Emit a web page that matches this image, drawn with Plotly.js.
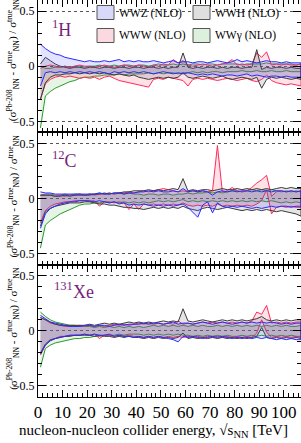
<!DOCTYPE html>
<html><head><meta charset="utf-8">
<script src="https://cdn.plot.ly/plotly-3.0.1.min.js"></script>
<style>html,body{margin:0;padding:0;background:#fff}#plot{width:301px;height:443px}</style>
</head><body><div id="plot"></div>
<script>
// collider energy sqrt(s_NN) [TeV]
const energy = [1,3,5,7,9,11,13,15,17,19, 21,23,25,27,29,31,33,35,37,39, 41,43,45,47,49,51,53,55,57,59, 61,63,65,67,69,71,73,75,77,79, 81,83,85,87,89,91,93,95,97,99, 101,103,105,107];

// ---- 1H panel ----
const H_WWZ_up = [0.20,0.16,0.13,0.11,0.10,0.08,0.07,0.06,0.05,0.04, 0.05,0.04,0.04,0.05,0.04,0.05,0.06,0.04,0.05,0.04, 0.05,0.04,0.04,0.05,0.04,0.03,0.04,0.05,0.03,0.04, 0.04,0.03,0.04,0.04,0.03,0.04,0.05,0.04,0.03,0.04, 0.06,0.04,0.05,0.04,0.03,0.04,0.05,0.04,0.04,0.03, 0.04,0.03,0.03,0.03];
const H_WWZ_lo = [-0.18,-0.06,-0.05,-0.06,-0.05,-0.06,-0.05,-0.06,-0.05,-0.06, -0.05,-0.06,-0.05,-0.06,-0.07,-0.05,-0.06,-0.05,-0.06,-0.05, -0.06,-0.05,-0.06,-0.07,-0.06,-0.05,-0.06,-0.07,-0.06,-0.07, -0.06,-0.07,-0.08,-0.07,-0.08,-0.07,-0.08,-0.09,-0.08,-0.08, -0.09,-0.08,-0.07,-0.09,-0.08,-0.09,-0.10,-0.09,-0.09,-0.10, -0.09,-0.10,-0.10,-0.10];
const H_WWH_up = [0.02,0.08,0.05,0.02,0.00,-0.01,-0.02,-0.01,-0.01,-0.02, -0.01,-0.01,-0.02,-0.01,-0.01,-0.02,-0.01,-0.01,-0.02,-0.01, -0.01,-0.02,-0.01,-0.01,-0.02,-0.01,-0.02,-0.01,-0.01,0.12, -0.01,-0.02,-0.01,-0.02,-0.01,-0.01,-0.02,-0.01,-0.02,-0.01, -0.01,-0.02,-0.01,-0.01,0.15,-0.03,-0.01,-0.02,-0.01,-0.01, -0.02,-0.01,-0.02,-0.02];
const H_WWH_lo = [-0.30,-0.15,-0.10,-0.08,-0.08,-0.07,-0.07,-0.06,-0.07,-0.06, -0.07,-0.06,-0.07,-0.06,-0.07,-0.08,-0.07,-0.08,-0.09,-0.08, -0.10,-0.11,-0.12,-0.11,-0.10,-0.11,-0.10,-0.11,-0.10,-0.06, -0.10,-0.11,-0.10,-0.09,-0.10,-0.11,-0.10,-0.09,-0.11,-0.12, -0.11,-0.10,-0.11,-0.12,-0.10,-0.20,-0.12,-0.10,-0.11,-0.10, -0.11,-0.12,-0.11,-0.12];
const H_WWW_up = [-0.02,0.00,0.01,0.00,-0.01,0.00,-0.01,0.00,0.01,0.00, 0.00,-0.01,0.00,0.01,0.00,-0.01,0.00,0.01,0.00,0.00, 0.01,0.00,-0.01,0.01,0.00,0.02,0.01,0.06,0.03,0.05, 0.01,0.00,0.01,0.02,0.01,0.00,0.01,0.02,0.03,0.06, 0.01,0.02,0.01,0.02,0.12,0.08,0.13,0.01,0.02,0.01, 0.02,0.01,0.01,0.02];
const H_WWW_lo = [-0.30,-0.16,-0.12,-0.10,-0.09,-0.10,-0.09,-0.10,-0.11,-0.10, -0.11,-0.10,-0.12,-0.10,-0.09,-0.11,-0.13,-0.14,-0.15,-0.16, -0.17,-0.18,-0.19,-0.12,-0.11,-0.12,-0.10,-0.11,-0.12,-0.13, -0.18,-0.12,-0.11,-0.12,-0.11,-0.12,-0.13,-0.12,-0.11,-0.12, -0.13,-0.12,-0.11,-0.13,-0.14,-0.12,-0.08,-0.13,-0.15,-0.16, -0.17,-0.16,-0.17,-0.18];
const H_WWA_up = [0.00,-0.02,-0.02,-0.01,-0.01,0.00,-0.01,0.00,0.00,-0.01, 0.00,0.00,0.01,0.00,0.00,0.01,0.00,0.01,0.01,0.00, 0.01,0.01,0.00,0.01,0.02,0.01,0.01,0.02,0.01,0.02, 0.01,0.02,0.02,0.01,0.02,0.02,0.01,0.02,0.02,0.02, 0.02,0.01,0.02,0.02,0.02,0.02,0.03,0.02,0.02,0.02, 0.02,0.02,0.01,0.02];
const H_WWA_lo = [-0.56,-0.27,-0.23,-0.20,-0.18,-0.16,-0.14,-0.13,-0.11,-0.10, -0.10,-0.09,-0.09,-0.08,-0.08,-0.08,-0.07,-0.08,-0.07,-0.07, -0.07,-0.07,-0.06,-0.07,-0.06,-0.07,-0.06,-0.06,-0.07,-0.06, -0.06,-0.05,-0.06,-0.05,-0.06,-0.05,-0.05,-0.06,-0.05,-0.05, -0.05,-0.04,-0.05,-0.05,-0.04,-0.05,-0.05,-0.04,-0.05,-0.05, -0.04,-0.05,-0.05,-0.05];

// ---- 12C panel ----
const C_WWZ_up = [0.06,0.05,0.05,0.04,0.04,0.04,0.04,0.04,0.04,0.04, 0.04,0.04,0.05,0.04,0.04,0.05,0.05,0.04,0.05,0.05, 0.06,0.06,0.07,0.06,0.07,0.06,0.06,0.07,0.06,0.09, 0.06,0.07,0.06,0.07,0.06,0.03,0.06,0.07,0.06,0.07, 0.06,0.07,0.07,0.06,0.07,0.06,0.07,0.06,0.07,0.07, 0.06,0.07,0.06,0.07];
const C_WWZ_lo = [-0.27,-0.14,-0.09,-0.07,-0.05,-0.04,-0.03,-0.03,-0.02,-0.02, -0.02,-0.03,-0.02,-0.03,-0.04,-0.03,-0.05,-0.04,-0.06,-0.05, -0.06,-0.05,-0.06,-0.07,-0.06,-0.07,-0.06,-0.07,-0.06,-0.05, -0.08,-0.12,-0.17,-0.06,-0.03,-0.13,-0.04,-0.07,-0.08,-0.07, -0.08,-0.07,-0.08,-0.09,-0.08,-0.09,-0.08,-0.07,-0.08,-0.07, -0.07,-0.08,-0.07,-0.07];
const C_WWH_up = [0.03,0.03,0.03,0.02,0.02,0.03,0.02,0.03,0.03,0.03, 0.03,0.04,0.04,0.05,0.04,0.05,0.05,0.06,0.06,0.07, 0.07,0.07,0.08,0.07,0.08,0.07,0.08,0.09,0.08,0.18, 0.07,0.08,0.07,0.08,0.08,0.07,0.08,0.09,0.08,0.08, 0.09,0.08,0.09,0.08,0.09,0.08,0.09,0.08,0.09,0.10, 0.09,0.10,0.09,0.09];
const C_WWH_lo = [-0.25,-0.12,-0.09,-0.07,-0.06,-0.05,-0.04,-0.04,-0.04,-0.03, -0.03,-0.04,-0.05,-0.05,-0.06,-0.06,-0.07,-0.08,-0.08,-0.09, -0.09,-0.10,-0.09,-0.08,-0.09,-0.08,-0.09,-0.08,-0.09,-0.07, -0.09,-0.10,-0.11,-0.09,-0.08,-0.09,-0.10,-0.09,-0.08,-0.09, -0.10,-0.11,-0.10,-0.11,-0.10,-0.11,-0.10,-0.11,-0.12,-0.11, -0.12,-0.13,-0.14,-0.16];
const C_WWW_up = [0.03,0.03,0.03,0.02,0.03,0.02,0.03,0.03,0.04,0.03, 0.04,0.03,0.04,0.04,0.05,0.04,0.05,0.05,0.06,0.05, 0.06,0.07,0.06,0.07,0.08,0.09,0.08,0.07,0.06,0.07, 0.06,0.07,0.06,0.07,0.06,0.07,0.48,0.06,0.07,0.10, 0.07,0.06,0.07,0.10,0.14,0.17,0.21,0.02,0.06,0.07, 0.06,0.07,0.06,0.07];
const C_WWW_lo = [-0.22,-0.11,-0.07,-0.05,-0.04,-0.03,-0.03,-0.02,-0.02,-0.02, -0.03,-0.02,-0.07,-0.03,-0.03,-0.04,-0.03,-0.04,-0.10,-0.05, -0.10,-0.05,-0.06,-0.05,-0.06,-0.05,-0.06,-0.05,-0.06,-0.04, -0.06,-0.07,-0.06,-0.07,-0.06,-0.07,-0.05,-0.07,-0.06,-0.07, -0.06,-0.07,-0.06,-0.07,-0.05,-0.02,0.08,-0.14,-0.08,-0.07, -0.08,-0.07,-0.08,-0.08];
const C_WWA_up = [0.03,0.04,0.04,0.03,0.03,0.04,0.03,0.04,0.04,0.03, 0.04,0.04,0.05,0.04,0.05,0.04,0.05,0.04,0.05,0.04, 0.04,0.03,0.04,0.04,0.03,0.04,0.04,0.03,0.04,0.04, 0.05,0.04,0.05,0.05,0.06,0.05,0.06,0.05,0.06,0.07, 0.07,0.06,0.07,0.08,0.07,0.08,0.07,0.08,0.07,0.06, 0.07,0.06,0.07,0.06];
const C_WWA_lo = [-0.45,-0.24,-0.20,-0.17,-0.14,-0.12,-0.10,-0.08,-0.06,-0.05, -0.05,-0.04,-0.04,-0.03,-0.04,-0.03,-0.04,-0.03,-0.04,-0.03, -0.04,-0.03,-0.04,-0.03,-0.02,-0.03,-0.02,-0.03,-0.02,-0.01, -0.03,-0.02,-0.03,-0.02,-0.03,-0.02,-0.03,-0.02,-0.03,-0.02, -0.03,-0.02,-0.03,-0.02,-0.03,-0.02,-0.03,-0.02,-0.03,-0.04, -0.03,-0.04,-0.03,-0.04];

// ---- 131Xe panel ----
const Xe_WWZ_up = [0.14,0.11,0.08,0.07,0.06,0.05,0.04,0.04,0.04,0.05, 0.05,0.04,0.05,0.05,0.04,0.05,0.06,0.05,0.06,0.06, 0.06,0.07,0.06,0.07,0.07,0.06,0.07,0.08,0.06,0.07, 0.07,0.06,0.07,0.08,0.07,0.06,0.07,0.08,0.07,0.06, 0.07,0.08,0.07,0.08,0.07,0.08,0.07,0.08,0.07,0.06, 0.07,0.06,0.07,0.07];
const Xe_WWZ_lo = [-0.21,-0.13,-0.09,-0.07,-0.06,-0.05,-0.04,-0.04,-0.04,-0.03, -0.04,-0.03,-0.04,-0.04,-0.03,-0.05,-0.04,-0.05,-0.05,-0.06, -0.05,-0.06,-0.05,-0.06,-0.05,-0.06,-0.07,-0.08,-0.10,-0.05, -0.06,-0.05,-0.06,-0.07,-0.06,-0.05,-0.06,-0.05,-0.06,-0.07, -0.06,-0.07,-0.06,-0.07,-0.06,-0.07,-0.06,-0.07,-0.08,-0.07, -0.08,-0.07,-0.08,-0.08];
const Xe_WWH_up = [0.12,0.10,0.08,0.06,0.05,0.05,0.05,0.05,0.05,0.05, 0.06,0.05,0.06,0.07,0.06,0.07,0.06,0.07,0.08,0.07, 0.08,0.07,0.08,0.07,0.08,0.09,0.08,0.09,0.08,0.20, 0.09,0.08,0.09,0.10,0.09,0.08,0.09,0.10,0.09,0.10, 0.09,0.10,0.09,0.10,0.11,0.13,0.10,0.09,0.10,0.09, 0.10,0.09,0.10,0.10];
const Xe_WWH_lo = [-0.20,-0.12,-0.08,-0.07,-0.06,-0.05,-0.05,-0.04,-0.04,-0.04, -0.04,-0.05,-0.04,-0.05,-0.05,-0.06,-0.05,-0.06,-0.05,-0.06, -0.06,-0.07,-0.06,-0.07,-0.06,-0.07,-0.06,-0.07,-0.06,-0.02, -0.07,-0.06,-0.07,-0.06,-0.07,-0.06,-0.07,-0.06,-0.07,-0.06, -0.07,-0.06,-0.07,-0.06,-0.05,0.03,-0.06,-0.07,-0.06,-0.07, -0.06,-0.07,-0.06,-0.07];
const Xe_WWW_up = [0.12,0.10,0.07,0.06,0.05,0.04,0.04,0.04,0.05,0.04, 0.05,0.04,0.05,0.04,0.05,0.06,0.05,0.06,0.05,0.06, 0.07,0.06,0.07,0.06,0.07,0.06,0.07,0.06,0.09,0.06, 0.07,0.06,0.07,0.08,0.07,0.08,0.07,0.08,0.07,0.08, 0.07,0.08,0.07,0.09,0.17,0.15,0.23,0.07,0.08,0.07, 0.08,0.07,0.08,0.08];
const Xe_WWW_lo = [-0.22,-0.13,-0.09,-0.07,-0.05,-0.05,-0.04,-0.04,-0.04,-0.03, -0.04,-0.03,-0.07,-0.04,-0.04,-0.05,-0.04,-0.05,-0.04,-0.05, -0.05,-0.06,-0.05,-0.06,-0.05,-0.06,-0.05,-0.06,-0.05,-0.06, -0.05,-0.06,-0.05,-0.06,-0.05,-0.06,-0.05,-0.06,-0.05,-0.06, -0.05,-0.06,-0.05,-0.06,-0.02,0.10,-0.01,-0.06,-0.05,-0.06, -0.05,-0.06,-0.05,-0.06];
const Xe_WWA_up = [0.17,0.13,0.10,0.08,0.07,0.06,0.05,0.05,0.04,0.04, 0.04,0.03,0.04,0.03,0.04,0.03,0.04,0.03,0.04,0.03, 0.04,0.03,0.04,0.05,0.04,0.05,0.04,0.05,0.04,0.05, 0.04,0.05,0.04,0.05,0.04,0.04,0.05,0.04,0.05,0.04, 0.05,0.04,0.05,0.04,0.05,0.04,0.05,0.04,0.05,0.04, 0.05,0.04,0.04,0.05];
const Xe_WWA_lo = [-0.33,-0.16,-0.13,-0.11,-0.10,-0.09,-0.08,-0.07,-0.07,-0.06, -0.06,-0.05,-0.05,-0.04,-0.04,-0.04,-0.03,-0.04,-0.03,-0.03, -0.03,-0.04,-0.03,-0.04,-0.03,-0.04,-0.03,-0.04,-0.03,-0.04, -0.04,-0.05,-0.04,-0.05,-0.04,-0.05,-0.04,-0.05,-0.04,-0.05, -0.05,-0.04,-0.05,-0.04,-0.05,-0.04,-0.05,-0.04,-0.05,-0.04, -0.05,-0.04,-0.05,-0.05];

const processNames = ['WWZ (NLO)','WWH (NLO)','WWW (NLO)','WWγ (NLO)'];
const panelLabels = ['<sup>1</sup>H','<sup>12</sup>C','<sup>131</sup>Xe'];
const yTitle = '(σ<sup>Pb-208</sup><sub>NN</sub> - σ<sup>true</sup><sub>NN</sub>) / σ<sup>true</sup><sub>NN</sub>';
const xTitle = 'nucleon-nucleon collider energy, √s<sub>NN</sub> [TeV]';

const style = {
  'WWZ (NLO)': {line:'#2a2aff', fill:'rgba(90,90,255,0.17)', box:'#d8d8fa'},
  'WWH (NLO)': {line:'#3a3a3a', fill:'rgba(80,80,80,0.15)', box:'#dfdfdf'},
  'WWW (NLO)': {line:'#ff2a5a', fill:'rgba(255,70,110,0.16)', box:'#fcd9e0'},
  'WWγ (NLO)': {line:'#2a9a2a', fill:'rgba(70,180,70,0.14)', box:'#ddf0dd'}
};

const panels = [
  {yaxis:'y',  xaxis:'x3', data:{'WWZ (NLO)':[H_WWZ_up,H_WWZ_lo],'WWH (NLO)':[H_WWH_up,H_WWH_lo],'WWW (NLO)':[H_WWW_up,H_WWW_lo],'WWγ (NLO)':[H_WWA_up,H_WWA_lo]}},
  {yaxis:'y2', xaxis:'x2', data:{'WWZ (NLO)':[C_WWZ_up,C_WWZ_lo],'WWH (NLO)':[C_WWH_up,C_WWH_lo],'WWW (NLO)':[C_WWW_up,C_WWW_lo],'WWγ (NLO)':[C_WWA_up,C_WWA_lo]}},
  {yaxis:'y3', xaxis:'x',  data:{'WWZ (NLO)':[Xe_WWZ_up,Xe_WWZ_lo],'WWH (NLO)':[Xe_WWH_up,Xe_WWH_lo],'WWW (NLO)':[Xe_WWW_up,Xe_WWW_lo],'WWγ (NLO)':[Xe_WWA_up,Xe_WWA_lo]}}
];

const drawOrder = ['WWγ (NLO)','WWW (NLO)','WWH (NLO)','WWZ (NLO)'];
const traces = [];
panels.forEach(p => {
  drawOrder.forEach(name => {
    const [up, lo] = p.data[name];
    traces.push({
      type:'scatter', mode:'lines', name:name, showlegend:false, hoverinfo:'skip',
      x: energy.concat(energy.slice().reverse()),
      y: up.concat(lo.slice().reverse()),
      fill:'toself', fillcolor: style[name].fill,
      line:{color: style[name].line, width:1},
      xaxis: p.xaxis, yaxis: p.yaxis
    });
  });
});

const serif = 'Liberation Serif, Times New Roman, serif';
function yax(domain){
  return {domain:domain, range:[-0.6,0.6], tickmode:'linear', tick0:0, dtick:0.5,
    ticks:'inside', ticklen:8, tickcolor:'#000', tickwidth:1,
    minor:{tickmode:'linear', tick0:0, dtick:0.1, ticks:'inside', ticklen:4, tickcolor:'#000', showgrid:false},
    showline:true, linecolor:'#000', linewidth:1, mirror:'ticks',
    showgrid:true, gridcolor:'#555', griddash:'dot', gridwidth:1, zeroline:false,
    tickfont:{family:serif, size:12, color:'#000'}, fixedrange:true};
}
function xax(anchor, labels){
  const a = {anchor:anchor, range:[0,107], tickmode:'linear', tick0:0, dtick:10,
    ticks:'inside', ticklen:7, tickcolor:'#000', tickwidth:1,
    minor:{tickmode:'linear', tick0:0, dtick:2, ticks:'inside', ticklen:4, tickcolor:'#000', showgrid:false},
    showline:true, linecolor:'#000', linewidth:1, mirror:'ticks', showgrid:false, zeroline:false,
    showticklabels:labels, tickfont:{family:serif, size:17, color:'#000'}, fixedrange:true};
  if (anchor !== 'y3') a.matches = 'x';
  return a;
}

const H = 397, W = 263;
const px = v => (v-38)/W;
const py = v => 1 - v/H;

const annotations = [];
const shapes = [];
// panel labels
[[50,15],[50,146],[52,277]].forEach((pos,i) => {
  annotations.push({text:panelLabels[i], xref:'paper', yref:'paper', x:px(pos[0]), y:py(pos[1]),
    xanchor:'left', yanchor:'top', showarrow:false, font:{family:serif, size:18, color:'#7a1f7a'}});
});
// y titles
[[5/6,-6],[0.5,-2],[1/6,-2]].forEach(([yc,dy]) => {
  annotations.push({text:yTitle, xref:'paper', yref:'paper', x:px(13), y:yc, yshift:-dy, textangle:-90,
    xanchor:'center', yanchor:'middle', showarrow:false, font:{family:serif, size:11, color:'#000'}});
});
// x title
annotations.push({text:xTitle, xref:'paper', yref:'paper', x:px(153), y:py(431),
  xanchor:'center', yanchor:'middle', showarrow:false, font:{family:serif, size:15, color:'#000'}});
// legend
const legendPos = [[97,5.5], [193,5.5], [97,28.5], [193,28.5]];
processNames.forEach((name,i) => {
  const [lx, ly] = legendPos[i];
  shapes.push({type:'rect', xref:'paper', yref:'paper', x0:px(lx), x1:px(lx+17), y0:py(ly+14), y1:py(ly),
    fillcolor:style[name].box, line:{color:'#555', width:1}, layer:'above'});
  annotations.push({text:name, xref:'paper', yref:'paper', x:px(lx+20), y:py(ly+7.5),
    xanchor:'left', yanchor:'middle', showarrow:false, font:{family:serif, size:11.5, color:'#000'}});
});

const layout = {
  width:301, height:443, margin:{l:38, r:0, t:0, b:46},
  paper_bgcolor:'#fff', plot_bgcolor:'#fff', showlegend:false,
  xaxis: xax('y3', true), xaxis2: xax('y2', false), xaxis3: xax('y', false),
  yaxis: yax([2/3,1]), yaxis2: yax([1/3,2/3]), yaxis3: yax([0,1/3]),
  annotations: annotations, shapes: shapes
};

Plotly.newPlot('plot', traces, layout, {staticPlot:true, displayModeBar:false});
</script></body></html>
